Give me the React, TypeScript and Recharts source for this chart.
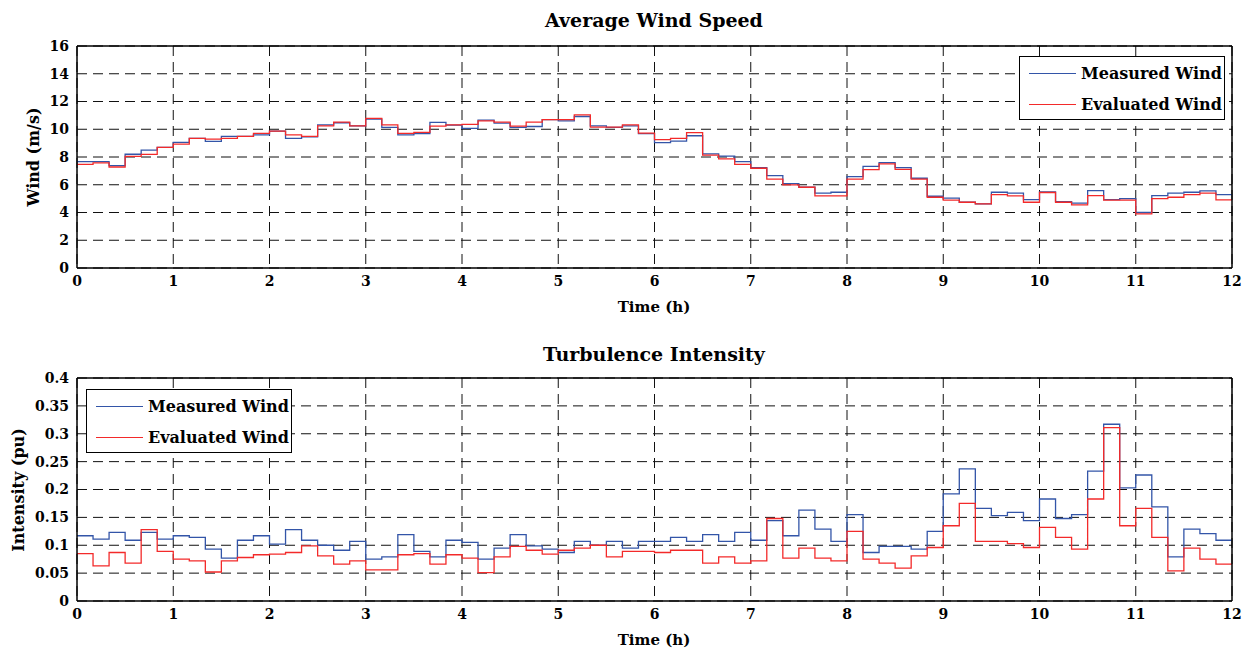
import React from "react";
import { LineChart, Line, XAxis, YAxis, CartesianGrid } from "recharts";

// ─── Data (10-minute averages over 12 h) ────────────────────────────────────
const HOURS = [0, 1, 2, 3, 4, 5, 6, 7, 8, 9, 10, 11, 12];
const WIND_TICKS = [0, 2, 4, 6, 8, 10, 12, 14, 16];
const TI_TICKS = [0, 0.05, 0.1, 0.15, 0.2, 0.25, 0.3, 0.35, 0.4];

const windMeasured = [
  7.66, 7.66, 7.38, 8.2, 8.5, 8.7, 9.05, 9.34, 9.13, 9.49, 9.49, 9.6,
  9.87, 9.34, 9.46, 10.32, 10.47, 10.25, 10.73, 10.13, 9.6, 9.68, 10.49, 10.3,
  10.06, 10.66, 10.44, 10.13, 10.2, 10.7, 10.61, 10.92, 10.25, 10.13, 10.25, 9.68,
  9.03, 9.15, 9.53, 8.22, 8.07, 7.66, 7.23, 6.66, 6.08, 5.82, 5.39, 5.46,
  6.59, 7.33, 7.59, 7.23, 6.47, 5.17, 5.03, 4.74, 4.62, 5.46, 5.39, 4.93,
  5.49, 4.79, 4.67, 5.58, 4.93, 5.0, 4.0, 5.22, 5.39, 5.46, 5.56, 5.29,
];
const windEvaluated = [
  7.47, 7.57, 7.28, 8.05, 8.19, 8.7, 8.93, 9.34, 9.29, 9.34, 9.49, 9.7,
  9.87, 9.6, 9.49, 10.25, 10.51, 10.25, 10.78, 10.32, 9.7, 9.77, 10.23, 10.32,
  10.35, 10.61, 10.51, 10.23, 10.51, 10.7, 10.7, 11.04, 10.16, 10.16, 10.32, 9.72,
  9.25, 9.34, 9.75, 8.14, 7.86, 7.47, 7.19, 6.4, 5.99, 5.82, 5.2, 5.2,
  6.4, 7.09, 7.5, 7.11, 6.4, 5.1, 4.89, 4.74, 4.62, 5.29, 5.2, 4.74,
  5.44, 4.74, 4.55, 5.22, 4.89, 4.89, 3.9, 5.0, 5.1, 5.29, 5.39, 4.91,
];
const tiMeasured = [
  0.117, 0.111, 0.123, 0.109, 0.123, 0.111, 0.117, 0.114, 0.093, 0.077, 0.109, 0.117,
  0.102, 0.128, 0.109, 0.1, 0.091, 0.107, 0.075, 0.079, 0.119, 0.089, 0.079, 0.109,
  0.105, 0.075, 0.095, 0.119, 0.099, 0.093, 0.087, 0.107, 0.1, 0.107, 0.095, 0.107,
  0.107, 0.114, 0.107, 0.119, 0.107, 0.123, 0.109, 0.144, 0.117, 0.163, 0.129, 0.107,
  0.155, 0.087, 0.098, 0.098, 0.093, 0.125, 0.192, 0.237, 0.166, 0.153, 0.159, 0.144,
  0.183, 0.148, 0.155, 0.233, 0.317, 0.203, 0.226, 0.169, 0.079, 0.129, 0.121, 0.109,
];
const tiEvaluated = [
  0.085, 0.063, 0.087, 0.068, 0.128, 0.089, 0.075, 0.072, 0.052, 0.072, 0.078, 0.083,
  0.084, 0.087, 0.099, 0.081, 0.066, 0.072, 0.056, 0.056, 0.083, 0.085, 0.066, 0.083,
  0.077, 0.051, 0.079, 0.098, 0.091, 0.084, 0.091, 0.095, 0.1, 0.079, 0.089, 0.089,
  0.087, 0.091, 0.091, 0.068, 0.079, 0.068, 0.072, 0.148, 0.077, 0.095, 0.077, 0.072,
  0.125, 0.075, 0.068, 0.059, 0.081, 0.096, 0.135, 0.175, 0.107, 0.107, 0.103, 0.096,
  0.132, 0.114, 0.093, 0.183, 0.311, 0.135, 0.166, 0.114, 0.054, 0.095, 0.075, 0.066,
];

// ─── Style ──────────────────────────────────────────────────────────────────
const C_MEAS = "#3355a8";
const C_EVAL = "#f32a2a";
const FONT = "'DejaVu Serif', serif";
const W = 1251;
const H = 327;

// step series: one row per 10-min interval + a closing row at 12 h
function toRows(measured: number[], evaluated: number[]) {
  const rows = measured.map((m, k) => ({ t: k / 6, m, e: evaluated[k] }));
  const last = measured.length - 1;
  rows.push({ t: 12, m: measured[last], e: evaluated[last] });
  return rows;
}

const fmtTick = (v: number) => String(Math.round(v * 100) / 100);

const tickStyle = { fill: "#000", fontSize: 14, fontWeight: 700, fontFamily: FONT };

function LegendBox({ left, top }: { left: number; top: number }) {
  const row = (color: string, label: string) => (
    <div style={{ display: "flex", alignItems: "center", height: 31 }}>
      <div style={{ width: 47, height: 0, borderTop: `1.3px solid ${color}`, marginRight: 5 }} />
      <span style={{ fontSize: 16, fontWeight: 700, fontFamily: FONT, whiteSpace: "nowrap" }}>{label}</span>
    </div>
  );
  return (
    <div
      style={{
        position: "absolute",
        left,
        top,
        width: 206,
        height: 64,
        border: "1.5px solid #000",
        background: "#fff",
        padding: "1px 0 0 9px",
        boxSizing: "border-box",
      }}
    >
      {row(C_MEAS, "Measured Wind")}
      {row(C_EVAL, "Evaluated Wind")}
    </div>
  );
}

function Text({ x, y, size, rotate, children }: { x: number; y: number; size: number; rotate?: boolean; children: React.ReactNode }) {
  return (
    <div
      style={{
        position: "absolute",
        left: x,
        top: y,
        transform: `translate(-50%, -50%)${rotate ? " rotate(-90deg)" : ""}`,
        fontFamily: FONT,
        fontWeight: 700,
        fontSize: size,
        whiteSpace: "nowrap",
        color: "#000",
      }}
    >
      {children}
    </div>
  );
}

function Panel({
  rows,
  domain,
  ticks,
  marginTop,
  marginBottom,
}: {
  rows: { t: number; m: number; e: number }[];
  domain: [number, number];
  ticks: number[];
  marginTop: number;
  marginBottom: number;
}) {
  return (
    <LineChart width={W} height={H} data={rows} margin={{ top: marginTop, right: 19, left: 27, bottom: marginBottom }}>
      <CartesianGrid stroke="#111" strokeDasharray="10 6" strokeWidth={1} />

      {/* labelled axes */}
      <XAxis
        dataKey="t"
        type="number"
        domain={[0, 12]}
        ticks={HOURS}
        height={40}
        tick={tickStyle}
        tickLine={false}
        axisLine={{ stroke: "#000", strokeWidth: 1.5 }}
        allowDataOverflow
      />
      <YAxis
        type="number"
        domain={domain}
        ticks={ticks}
        width={50}
        tick={tickStyle}
        tickFormatter={fmtTick}
        tickLine={false}
        axisLine={{ stroke: "#000", strokeWidth: 1.5 }}
        allowDataOverflow
      />

      {/* inward tick marks + box */}
      <XAxis xAxisId="bt" type="number" dataKey="t" domain={[0, 12]} ticks={HOURS} mirror tick={false} tickSize={5} tickLine={{ stroke: "#000" }} axisLine={false} />
      <XAxis xAxisId="top" orientation="top" type="number" dataKey="t" domain={[0, 12]} ticks={HOURS} mirror tick={false} tickSize={5} tickLine={{ stroke: "#000" }} axisLine={{ stroke: "#000", strokeWidth: 1.5 }} />
      <YAxis yAxisId="lt" type="number" domain={domain} ticks={ticks} mirror tick={false} tickSize={5} tickLine={{ stroke: "#000" }} axisLine={false} />
      <YAxis yAxisId="right" orientation="right" type="number" domain={domain} ticks={ticks} mirror tick={false} tickSize={5} tickLine={{ stroke: "#000" }} axisLine={{ stroke: "#000", strokeWidth: 1.5 }} />

      <Line type="stepAfter" dataKey="m" stroke={C_MEAS} strokeWidth={1.3} dot={false} isAnimationActive={false} />
      <Line type="stepAfter" dataKey="e" stroke={C_EVAL} strokeWidth={1.3} dot={false} isAnimationActive={false} />
    </LineChart>
  );
}

export default function App() {
  const windRows = toRows(windMeasured, windEvaluated);
  const tiRows = toRows(tiMeasured, tiEvaluated);

  return (
    <div style={{ position: "absolute", left: 0, top: 0, width: W, height: 654, background: "#fff", overflow: "hidden" }}>
      {/* ── Average wind speed ── */}
      <div style={{ position: "absolute", left: 0, top: 0 }}>
        <Panel rows={windRows} domain={[0, 16]} ticks={WIND_TICKS} marginTop={46} marginBottom={19} />
      </div>
      <Text x={654} y={20} size={19}>Average Wind Speed</Text>
      <Text x={654} y={307} size={15}>Time (h)</Text>
      <Text x={33} y={157} size={16} rotate>Wind (m/s)</Text>
      <LegendBox left={1019} top={56} />

      {/* ── Turbulence intensity ── */}
      <div style={{ position: "absolute", left: 0, top: H }}>
        <Panel rows={tiRows} domain={[0, 0.4]} ticks={TI_TICKS} marginTop={51} marginBottom={13} />
      </div>
      <Text x={654} y={354} size={19}>Turbulence Intensity</Text>
      <Text x={654} y={640} size={15}>Time (h)</Text>
      <Text x={18} y={490} size={16} rotate>Intensity (pu)</Text>
      <LegendBox left={86} top={389} />
    </div>
  );
}
